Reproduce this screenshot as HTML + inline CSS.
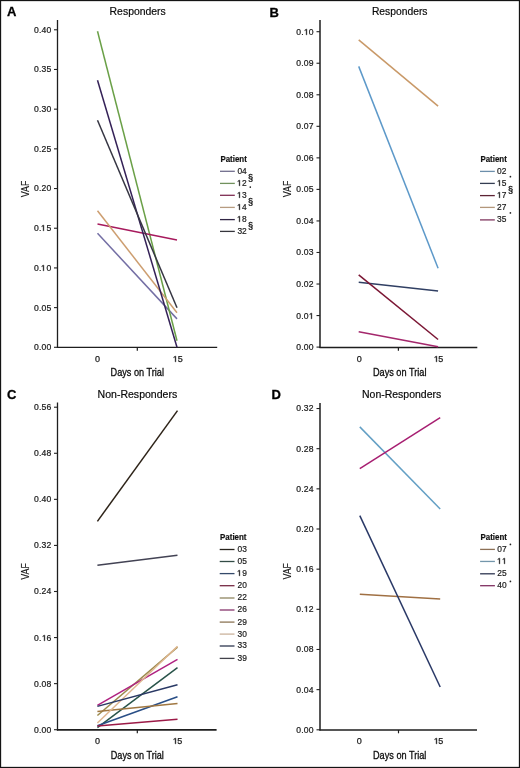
<!DOCTYPE html>
<html><head><meta charset="utf-8"><style>
html,body{margin:0;padding:0;background:#fff;}
body{width:520px;height:768px;overflow:hidden;}
svg{display:block;font-family:"Liberation Sans", sans-serif;}
text{filter:grayscale(1);}
</style></head><body>
<svg width="520" height="768" viewBox="0 0 520 768">
<rect x="0" y="0" width="520" height="768" fill="#fff"/>
<line x1="57.50" y1="20.00" x2="57.50" y2="348.00" stroke="#1e1e1e" stroke-width="1.3" stroke-linecap="butt"/>
<line x1="56.90" y1="347.40" x2="217.20" y2="347.40" stroke="#1e1e1e" stroke-width="1.4" stroke-linecap="butt"/>
<line x1="137.30" y1="347.40" x2="137.30" y2="350.70" stroke="#1e1e1e" stroke-width="1.2" stroke-linecap="butt"/>
<line x1="54.00" y1="347.30" x2="57.50" y2="347.30" stroke="#222" stroke-width="1.1" stroke-linecap="butt"/>
<text x="33.98 38.96 41.44 46.42" y="350.25" font-size="8.6" fill="#1a1a1a" stroke="#1a1a1a" stroke-width="0.22">0.00</text>
<line x1="54.00" y1="307.61" x2="57.50" y2="307.61" stroke="#222" stroke-width="1.1" stroke-linecap="butt"/>
<text x="33.98 38.96 41.44 46.42" y="310.56" font-size="8.6" fill="#1a1a1a" stroke="#1a1a1a" stroke-width="0.22">0.05</text>
<line x1="54.00" y1="267.92" x2="57.50" y2="267.92" stroke="#222" stroke-width="1.1" stroke-linecap="butt"/>
<path d="M515,0L515,1237L197,1010L197,1180L530,1409L696,1409L696,0Z" fill="#1a1a1a" stroke="#1a1a1a" stroke-width="88.1" transform="translate(40.96,270.85) scale(0.00420,-0.00405)"/>
<text x="33.98 38.96 46.42" y="270.87" font-size="8.6" fill="#1a1a1a" stroke="#1a1a1a" stroke-width="0.22">0.0</text>
<line x1="54.00" y1="228.23" x2="57.50" y2="228.23" stroke="#222" stroke-width="1.1" stroke-linecap="butt"/>
<path d="M515,0L515,1237L197,1010L197,1180L530,1409L696,1409L696,0Z" fill="#1a1a1a" stroke="#1a1a1a" stroke-width="88.1" transform="translate(40.96,230.85) scale(0.00420,-0.00405)"/>
<text x="33.98 38.96 46.42" y="231.18" font-size="8.6" fill="#1a1a1a" stroke="#1a1a1a" stroke-width="0.22">0.5</text>
<line x1="54.00" y1="188.54" x2="57.50" y2="188.54" stroke="#222" stroke-width="1.1" stroke-linecap="butt"/>
<text x="33.98 38.96 41.44 46.42" y="191.49" font-size="8.6" fill="#1a1a1a" stroke="#1a1a1a" stroke-width="0.22">0.20</text>
<line x1="54.00" y1="148.85" x2="57.50" y2="148.85" stroke="#222" stroke-width="1.1" stroke-linecap="butt"/>
<text x="33.98 38.96 41.44 46.42" y="151.80" font-size="8.6" fill="#1a1a1a" stroke="#1a1a1a" stroke-width="0.22">0.25</text>
<line x1="54.00" y1="109.16" x2="57.50" y2="109.16" stroke="#222" stroke-width="1.1" stroke-linecap="butt"/>
<text x="33.98 38.96 41.44 46.42" y="112.11" font-size="8.6" fill="#1a1a1a" stroke="#1a1a1a" stroke-width="0.22">0.30</text>
<line x1="54.00" y1="69.47" x2="57.50" y2="69.47" stroke="#222" stroke-width="1.1" stroke-linecap="butt"/>
<text x="33.98 38.96 41.44 46.42" y="72.42" font-size="8.6" fill="#1a1a1a" stroke="#1a1a1a" stroke-width="0.22">0.35</text>
<line x1="54.00" y1="29.78" x2="57.50" y2="29.78" stroke="#222" stroke-width="1.1" stroke-linecap="butt"/>
<text x="33.98 38.96 41.44 46.42" y="32.73" font-size="8.6" fill="#1a1a1a" stroke="#1a1a1a" stroke-width="0.22">0.40</text>
<text x="94.90" y="361.70" font-size="9.0" fill="#1a1a1a" stroke="#1a1a1a" stroke-width="0.25">0</text>
<path d="M515,0L515,1237L197,1010L197,1180L530,1409L696,1409L696,0Z" fill="#1a1a1a" stroke="#1a1a1a" stroke-width="91.0" transform="translate(172.84,361.84) scale(0.00439,-0.00403)"/>
<text x="177.72" y="361.70" font-size="9.0" fill="#1a1a1a" stroke="#1a1a1a" stroke-width="0.25">5</text>
<text x="110.60" y="376.20" font-size="11" text-anchor="start" stroke="#1a1a1a" stroke-width="0.32" textLength="53.4" lengthAdjust="spacingAndGlyphs">Days on Trial</text>
<text x="0" y="0" font-size="11.6" text-anchor="middle" fill="#1a1a1a" stroke="#1a1a1a" stroke-width="0.12" textLength="16.6" lengthAdjust="spacingAndGlyphs" transform="translate(28.70,188.90) rotate(-90)">VAF</text>
<text x="7.00" y="16.20" font-size="13" text-anchor="start" stroke="#000" stroke-width="0.3" font-weight="bold" fill="#000">A</text>
<text x="109.60" y="14.90" font-size="10.8" text-anchor="start" stroke="#1a1a1a" stroke-width="0.2" textLength="56.2" lengthAdjust="spacingAndGlyphs">Responders</text>
<line x1="97.50" y1="233.31" x2="177.00" y2="318.88" stroke="#736ea4" stroke-width="1.5" stroke-linecap="butt"/>
<line x1="97.50" y1="31.21" x2="177.00" y2="340.71" stroke="#6aa047" stroke-width="1.5" stroke-linecap="butt"/>
<line x1="97.50" y1="224.10" x2="177.00" y2="239.98" stroke="#a71a5d" stroke-width="1.5" stroke-linecap="butt"/>
<line x1="97.50" y1="210.77" x2="177.00" y2="312.69" stroke="#cd9e70" stroke-width="1.5" stroke-linecap="butt"/>
<line x1="97.50" y1="80.19" x2="177.00" y2="347.30" stroke="#342157" stroke-width="1.5" stroke-linecap="butt"/>
<line x1="97.50" y1="120.27" x2="177.00" y2="307.77" stroke="#363643" stroke-width="1.5" stroke-linecap="butt"/>
<text x="220.40" y="161.80" font-size="8.5" text-anchor="start" stroke="#111" stroke-width="0.2" font-weight="bold" textLength="26.4" lengthAdjust="spacingAndGlyphs" fill="#111">Patient</text>
<line x1="220.00" y1="171.30" x2="234.80" y2="171.30" stroke="#706d8d" stroke-width="1.3" stroke-linecap="butt"/>
<text x="237.40 242.07" y="173.70" font-size="8.4" fill="#1a1a1a" stroke="#1a1a1a" stroke-width="0.2">04</text>
<line x1="220.00" y1="183.40" x2="234.80" y2="183.40" stroke="#71915d" stroke-width="1.3" stroke-linecap="butt"/>
<path d="M515,0L515,1237L197,1010L197,1180L530,1409L696,1409L696,0Z" fill="#1a1a1a" stroke="#1a1a1a" stroke-width="85.3" transform="translate(237.02,185.86) scale(0.00410,-0.00406)"/>
<text x="242.07" y="185.80" font-size="8.4" fill="#1a1a1a" stroke="#1a1a1a" stroke-width="0.2">2</text>
<line x1="220.00" y1="195.30" x2="234.80" y2="195.30" stroke="#7f2d53" stroke-width="1.3" stroke-linecap="butt"/>
<path d="M515,0L515,1237L197,1010L197,1180L530,1409L696,1409L696,0Z" fill="#1a1a1a" stroke="#1a1a1a" stroke-width="85.3" transform="translate(237.02,197.86) scale(0.00410,-0.00406)"/>
<text x="242.07" y="197.70" font-size="8.4" fill="#1a1a1a" stroke="#1a1a1a" stroke-width="0.2">3</text>
<line x1="220.00" y1="207.40" x2="234.80" y2="207.40" stroke="#b79c81" stroke-width="1.3" stroke-linecap="butt"/>
<path d="M515,0L515,1237L197,1010L197,1180L530,1409L696,1409L696,0Z" fill="#1a1a1a" stroke="#1a1a1a" stroke-width="85.3" transform="translate(237.02,209.86) scale(0.00410,-0.00406)"/>
<text x="242.07" y="209.80" font-size="8.4" fill="#1a1a1a" stroke="#1a1a1a" stroke-width="0.2">4</text>
<line x1="220.00" y1="219.60" x2="234.80" y2="219.60" stroke="#302544" stroke-width="1.3" stroke-linecap="butt"/>
<path d="M515,0L515,1237L197,1010L197,1180L530,1409L696,1409L696,0Z" fill="#1a1a1a" stroke="#1a1a1a" stroke-width="85.3" transform="translate(237.02,221.86) scale(0.00410,-0.00406)"/>
<text x="242.07" y="222.00" font-size="8.4" fill="#1a1a1a" stroke="#1a1a1a" stroke-width="0.2">8</text>
<line x1="220.00" y1="231.40" x2="234.80" y2="231.40" stroke="#35353c" stroke-width="1.3" stroke-linecap="butt"/>
<text x="237.40 242.07" y="233.80" font-size="8.4" fill="#1a1a1a" stroke="#1a1a1a" stroke-width="0.2">32</text>
<text x="250.50" y="180.60" font-size="9.2" text-anchor="middle" stroke="#1a1a1a" stroke-width="0.3">§</text>
<circle cx="250.30" cy="187.10" r="0.85" fill="#222"/>
<text x="250.50" y="204.90" font-size="9.2" text-anchor="middle" stroke="#1a1a1a" stroke-width="0.3">§</text>
<text x="250.50" y="229.20" font-size="9.2" text-anchor="middle" stroke="#1a1a1a" stroke-width="0.3">§</text>
<line x1="320.00" y1="20.00" x2="320.00" y2="348.05" stroke="#1e1e1e" stroke-width="1.5" stroke-linecap="butt"/>
<line x1="319.40" y1="347.45" x2="477.30" y2="347.45" stroke="#1e1e1e" stroke-width="1.4" stroke-linecap="butt"/>
<line x1="398.40" y1="347.45" x2="398.40" y2="350.75" stroke="#1e1e1e" stroke-width="1.2" stroke-linecap="butt"/>
<line x1="316.50" y1="347.10" x2="320.00" y2="347.10" stroke="#222" stroke-width="1.1" stroke-linecap="butt"/>
<text x="296.28 301.26 303.74 308.72" y="350.05" font-size="8.6" fill="#1a1a1a" stroke="#1a1a1a" stroke-width="0.22">0.00</text>
<line x1="316.50" y1="315.56" x2="320.00" y2="315.56" stroke="#222" stroke-width="1.1" stroke-linecap="butt"/>
<path d="M515,0L515,1237L197,1010L197,1180L530,1409L696,1409L696,0Z" fill="#1a1a1a" stroke="#1a1a1a" stroke-width="88.1" transform="translate(308.96,318.85) scale(0.00420,-0.00405)"/>
<text x="296.28 301.26 303.74" y="318.51" font-size="8.6" fill="#1a1a1a" stroke="#1a1a1a" stroke-width="0.22">0.0</text>
<line x1="316.50" y1="284.02" x2="320.00" y2="284.02" stroke="#222" stroke-width="1.1" stroke-linecap="butt"/>
<text x="296.28 301.26 303.74 308.72" y="286.97" font-size="8.6" fill="#1a1a1a" stroke="#1a1a1a" stroke-width="0.22">0.02</text>
<line x1="316.50" y1="252.48" x2="320.00" y2="252.48" stroke="#222" stroke-width="1.1" stroke-linecap="butt"/>
<text x="296.28 301.26 303.74 308.72" y="255.43" font-size="8.6" fill="#1a1a1a" stroke="#1a1a1a" stroke-width="0.22">0.03</text>
<line x1="316.50" y1="220.94" x2="320.00" y2="220.94" stroke="#222" stroke-width="1.1" stroke-linecap="butt"/>
<text x="296.28 301.26 303.74 308.72" y="223.89" font-size="8.6" fill="#1a1a1a" stroke="#1a1a1a" stroke-width="0.22">0.04</text>
<line x1="316.50" y1="189.40" x2="320.00" y2="189.40" stroke="#222" stroke-width="1.1" stroke-linecap="butt"/>
<text x="296.28 301.26 303.74 308.72" y="192.35" font-size="8.6" fill="#1a1a1a" stroke="#1a1a1a" stroke-width="0.22">0.05</text>
<line x1="316.50" y1="157.86" x2="320.00" y2="157.86" stroke="#222" stroke-width="1.1" stroke-linecap="butt"/>
<text x="296.28 301.26 303.74 308.72" y="160.81" font-size="8.6" fill="#1a1a1a" stroke="#1a1a1a" stroke-width="0.22">0.06</text>
<line x1="316.50" y1="126.32" x2="320.00" y2="126.32" stroke="#222" stroke-width="1.1" stroke-linecap="butt"/>
<text x="296.28 301.26 303.74 308.72" y="129.27" font-size="8.6" fill="#1a1a1a" stroke="#1a1a1a" stroke-width="0.22">0.07</text>
<line x1="316.50" y1="94.78" x2="320.00" y2="94.78" stroke="#222" stroke-width="1.1" stroke-linecap="butt"/>
<text x="296.28 301.26 303.74 308.72" y="97.73" font-size="8.6" fill="#1a1a1a" stroke="#1a1a1a" stroke-width="0.22">0.08</text>
<line x1="316.50" y1="63.24" x2="320.00" y2="63.24" stroke="#222" stroke-width="1.1" stroke-linecap="butt"/>
<text x="296.28 301.26 303.74 308.72" y="66.19" font-size="8.6" fill="#1a1a1a" stroke="#1a1a1a" stroke-width="0.22">0.09</text>
<line x1="316.50" y1="31.70" x2="320.00" y2="31.70" stroke="#222" stroke-width="1.1" stroke-linecap="butt"/>
<path d="M515,0L515,1237L197,1010L197,1180L530,1409L696,1409L696,0Z" fill="#1a1a1a" stroke="#1a1a1a" stroke-width="88.1" transform="translate(303.96,34.85) scale(0.00420,-0.00405)"/>
<text x="296.28 301.26 308.72" y="34.65" font-size="8.6" fill="#1a1a1a" stroke="#1a1a1a" stroke-width="0.22">0.0</text>
<text x="356.80" y="361.55" font-size="9.0" fill="#1a1a1a" stroke="#1a1a1a" stroke-width="0.25">0</text>
<path d="M515,0L515,1237L197,1010L197,1180L530,1409L696,1409L696,0Z" fill="#1a1a1a" stroke="#1a1a1a" stroke-width="91.0" transform="translate(433.84,361.84) scale(0.00439,-0.00403)"/>
<text x="438.17" y="361.55" font-size="9.0" fill="#1a1a1a" stroke="#1a1a1a" stroke-width="0.25">5</text>
<text x="372.90" y="375.80" font-size="11" text-anchor="start" stroke="#1a1a1a" stroke-width="0.32" textLength="53.6" lengthAdjust="spacingAndGlyphs">Days on Trial</text>
<text x="0" y="0" font-size="11.6" text-anchor="middle" fill="#1a1a1a" stroke="#1a1a1a" stroke-width="0.12" textLength="16.6" lengthAdjust="spacingAndGlyphs" transform="translate(290.75,188.90) rotate(-90)">VAF</text>
<text x="269.40" y="16.50" font-size="13" text-anchor="start" stroke="#000" stroke-width="0.3" font-weight="bold" fill="#000">B</text>
<text x="371.90" y="14.90" font-size="10.8" text-anchor="start" stroke="#1a1a1a" stroke-width="0.2" textLength="55.6" lengthAdjust="spacingAndGlyphs">Responders</text>
<line x1="358.70" y1="66.39" x2="438.10" y2="268.25" stroke="#5d99c9" stroke-width="1.5" stroke-linecap="butt"/>
<line x1="358.70" y1="282.13" x2="438.10" y2="290.96" stroke="#303f63" stroke-width="1.5" stroke-linecap="butt"/>
<line x1="358.70" y1="274.87" x2="438.10" y2="339.53" stroke="#7b1634" stroke-width="1.5" stroke-linecap="butt"/>
<line x1="358.70" y1="39.90" x2="438.10" y2="106.13" stroke="#c99968" stroke-width="1.5" stroke-linecap="butt"/>
<line x1="358.70" y1="331.65" x2="438.10" y2="346.78" stroke="#a4276c" stroke-width="1.5" stroke-linecap="butt"/>
<text x="480.40" y="161.60" font-size="8.5" text-anchor="start" stroke="#111" stroke-width="0.2" font-weight="bold" textLength="26.4" lengthAdjust="spacingAndGlyphs" fill="#111">Patient</text>
<line x1="480.00" y1="171.40" x2="494.80" y2="171.40" stroke="#6c8fab" stroke-width="1.3" stroke-linecap="butt"/>
<text x="497.10 501.77" y="173.80" font-size="8.4" fill="#1a1a1a" stroke="#1a1a1a" stroke-width="0.2">02</text>
<line x1="480.00" y1="183.40" x2="494.80" y2="183.40" stroke="#343d52" stroke-width="1.3" stroke-linecap="butt"/>
<path d="M515,0L515,1237L197,1010L197,1180L530,1409L696,1409L696,0Z" fill="#1a1a1a" stroke="#1a1a1a" stroke-width="85.3" transform="translate(497.02,185.86) scale(0.00410,-0.00406)"/>
<text x="501.77" y="185.80" font-size="8.4" fill="#1a1a1a" stroke="#1a1a1a" stroke-width="0.2">5</text>
<line x1="480.00" y1="195.60" x2="494.80" y2="195.60" stroke="#5d2334" stroke-width="1.3" stroke-linecap="butt"/>
<path d="M515,0L515,1237L197,1010L197,1180L530,1409L696,1409L696,0Z" fill="#1a1a1a" stroke="#1a1a1a" stroke-width="85.3" transform="translate(497.02,197.86) scale(0.00410,-0.00406)"/>
<text x="501.77" y="198.00" font-size="8.4" fill="#1a1a1a" stroke="#1a1a1a" stroke-width="0.2">7</text>
<line x1="480.00" y1="207.40" x2="494.80" y2="207.40" stroke="#b3977b" stroke-width="1.3" stroke-linecap="butt"/>
<text x="497.10 501.77" y="209.80" font-size="8.4" fill="#1a1a1a" stroke="#1a1a1a" stroke-width="0.2">27</text>
<line x1="480.00" y1="219.90" x2="494.80" y2="219.90" stroke="#80375f" stroke-width="1.3" stroke-linecap="butt"/>
<text x="497.10 501.77" y="222.30" font-size="8.4" fill="#1a1a1a" stroke="#1a1a1a" stroke-width="0.2">35</text>
<circle cx="510.40" cy="176.70" r="0.85" fill="#222"/>
<text x="510.50" y="193.30" font-size="9.2" text-anchor="middle" stroke="#1a1a1a" stroke-width="0.3">§</text>
<circle cx="510.40" cy="212.90" r="0.85" fill="#222"/>
<line x1="57.50" y1="402.50" x2="57.50" y2="730.45" stroke="#1e1e1e" stroke-width="1.3" stroke-linecap="butt"/>
<line x1="56.90" y1="729.85" x2="216.60" y2="729.85" stroke="#1e1e1e" stroke-width="1.6" stroke-linecap="butt"/>
<line x1="137.30" y1="729.85" x2="137.30" y2="733.15" stroke="#1e1e1e" stroke-width="1.2" stroke-linecap="butt"/>
<line x1="54.00" y1="729.70" x2="57.50" y2="729.70" stroke="#222" stroke-width="1.1" stroke-linecap="butt"/>
<text x="34.08 39.06 41.54 46.52" y="732.65" font-size="8.6" fill="#1a1a1a" stroke="#1a1a1a" stroke-width="0.22">0.00</text>
<line x1="54.00" y1="683.63" x2="57.50" y2="683.63" stroke="#222" stroke-width="1.1" stroke-linecap="butt"/>
<text x="34.08 39.06 41.54 46.52" y="686.58" font-size="8.6" fill="#1a1a1a" stroke="#1a1a1a" stroke-width="0.22">0.08</text>
<line x1="54.00" y1="637.56" x2="57.50" y2="637.56" stroke="#222" stroke-width="1.1" stroke-linecap="butt"/>
<path d="M515,0L515,1237L197,1010L197,1180L530,1409L696,1409L696,0Z" fill="#1a1a1a" stroke="#1a1a1a" stroke-width="88.1" transform="translate(41.96,640.85) scale(0.00420,-0.00405)"/>
<text x="34.08 39.06 46.52" y="640.51" font-size="8.6" fill="#1a1a1a" stroke="#1a1a1a" stroke-width="0.22">0.6</text>
<line x1="54.00" y1="591.49" x2="57.50" y2="591.49" stroke="#222" stroke-width="1.1" stroke-linecap="butt"/>
<text x="34.08 39.06 41.54 46.52" y="594.44" font-size="8.6" fill="#1a1a1a" stroke="#1a1a1a" stroke-width="0.22">0.24</text>
<line x1="54.00" y1="545.42" x2="57.50" y2="545.42" stroke="#222" stroke-width="1.1" stroke-linecap="butt"/>
<text x="34.08 39.06 41.54 46.52" y="548.37" font-size="8.6" fill="#1a1a1a" stroke="#1a1a1a" stroke-width="0.22">0.32</text>
<line x1="54.00" y1="499.35" x2="57.50" y2="499.35" stroke="#222" stroke-width="1.1" stroke-linecap="butt"/>
<text x="34.08 39.06 41.54 46.52" y="502.30" font-size="8.6" fill="#1a1a1a" stroke="#1a1a1a" stroke-width="0.22">0.40</text>
<line x1="54.00" y1="453.28" x2="57.50" y2="453.28" stroke="#222" stroke-width="1.1" stroke-linecap="butt"/>
<text x="34.08 39.06 41.54 46.52" y="456.23" font-size="8.6" fill="#1a1a1a" stroke="#1a1a1a" stroke-width="0.22">0.48</text>
<line x1="54.00" y1="407.21" x2="57.50" y2="407.21" stroke="#222" stroke-width="1.1" stroke-linecap="butt"/>
<text x="34.08 39.06 41.54 46.52" y="410.16" font-size="8.6" fill="#1a1a1a" stroke="#1a1a1a" stroke-width="0.22">0.56</text>
<text x="94.95" y="743.85" font-size="9.0" fill="#1a1a1a" stroke="#1a1a1a" stroke-width="0.25">0</text>
<path d="M515,0L515,1237L197,1010L197,1180L530,1409L696,1409L696,0Z" fill="#1a1a1a" stroke="#1a1a1a" stroke-width="91.0" transform="translate(172.84,743.84) scale(0.00439,-0.00403)"/>
<text x="177.27" y="743.85" font-size="9.0" fill="#1a1a1a" stroke="#1a1a1a" stroke-width="0.25">5</text>
<text x="110.80" y="758.70" font-size="11" text-anchor="start" stroke="#1a1a1a" stroke-width="0.32" textLength="53.0" lengthAdjust="spacingAndGlyphs">Days on Trial</text>
<text x="0" y="0" font-size="11.6" text-anchor="middle" fill="#1a1a1a" stroke="#1a1a1a" stroke-width="0.12" textLength="16.6" lengthAdjust="spacingAndGlyphs" transform="translate(28.90,571.40) rotate(-90)">VAF</text>
<text x="7.00" y="399.20" font-size="13" text-anchor="start" stroke="#000" stroke-width="0.3" font-weight="bold" fill="#000">C</text>
<text x="97.60" y="397.50" font-size="10.8" text-anchor="start" stroke="#1a1a1a" stroke-width="0.2" textLength="79.6" lengthAdjust="spacingAndGlyphs">Non-Responders</text>
<line x1="97.40" y1="521.32" x2="177.50" y2="410.61" stroke="#2d2318" stroke-width="1.5" stroke-linecap="butt"/>
<line x1="97.40" y1="727.67" x2="177.50" y2="667.57" stroke="#29544a" stroke-width="1.5" stroke-linecap="butt"/>
<line x1="97.40" y1="725.72" x2="177.50" y2="696.79" stroke="#294e86" stroke-width="1.5" stroke-linecap="butt"/>
<line x1="97.40" y1="726.12" x2="177.50" y2="719.28" stroke="#9c1a47" stroke-width="1.5" stroke-linecap="butt"/>
<line x1="97.40" y1="715.48" x2="177.50" y2="647.16" stroke="#9c8a4c" stroke-width="1.5" stroke-linecap="butt"/>
<line x1="97.40" y1="705.47" x2="177.50" y2="659.29" stroke="#af2180" stroke-width="1.5" stroke-linecap="butt"/>
<line x1="97.40" y1="711.57" x2="177.50" y2="703.58" stroke="#a07741" stroke-width="1.5" stroke-linecap="butt"/>
<line x1="97.40" y1="723.07" x2="177.50" y2="646.29" stroke="#dfb68f" stroke-width="1.5" stroke-linecap="butt"/>
<line x1="97.40" y1="706.39" x2="177.50" y2="684.71" stroke="#293864" stroke-width="1.5" stroke-linecap="butt"/>
<line x1="97.40" y1="565.32" x2="177.50" y2="555.19" stroke="#434354" stroke-width="1.5" stroke-linecap="butt"/>
<text x="220.10" y="539.80" font-size="8.5" text-anchor="start" stroke="#111" stroke-width="0.2" font-weight="bold" textLength="26.4" lengthAdjust="spacingAndGlyphs" fill="#111">Patient</text>
<line x1="219.70" y1="549.50" x2="234.50" y2="549.50" stroke="#28231c" stroke-width="1.3" stroke-linecap="butt"/>
<text x="237.50 242.17" y="551.90" font-size="8.4" fill="#1a1a1a" stroke="#1a1a1a" stroke-width="0.2">03</text>
<line x1="219.70" y1="561.50" x2="234.50" y2="561.50" stroke="#334c46" stroke-width="1.3" stroke-linecap="butt"/>
<text x="237.50 242.17" y="563.90" font-size="8.4" fill="#1a1a1a" stroke="#1a1a1a" stroke-width="0.2">05</text>
<line x1="219.70" y1="573.60" x2="234.50" y2="573.60" stroke="#344a6a" stroke-width="1.3" stroke-linecap="butt"/>
<path d="M515,0L515,1237L197,1010L197,1180L530,1409L696,1409L696,0Z" fill="#1a1a1a" stroke="#1a1a1a" stroke-width="85.3" transform="translate(237.02,575.86) scale(0.00410,-0.00406)"/>
<text x="242.17" y="576.00" font-size="8.4" fill="#1a1a1a" stroke="#1a1a1a" stroke-width="0.2">9</text>
<line x1="219.70" y1="585.70" x2="234.50" y2="585.70" stroke="#762a44" stroke-width="1.3" stroke-linecap="butt"/>
<text x="237.50 242.17" y="588.10" font-size="8.4" fill="#1a1a1a" stroke="#1a1a1a" stroke-width="0.2">20</text>
<line x1="219.70" y1="598.00" x2="234.50" y2="598.00" stroke="#8f8561" stroke-width="1.3" stroke-linecap="butt"/>
<text x="237.50 242.17" y="600.40" font-size="8.4" fill="#1a1a1a" stroke="#1a1a1a" stroke-width="0.2">22</text>
<line x1="219.70" y1="610.00" x2="234.50" y2="610.00" stroke="#87356c" stroke-width="1.3" stroke-linecap="butt"/>
<text x="237.50 242.17" y="612.40" font-size="8.4" fill="#1a1a1a" stroke="#1a1a1a" stroke-width="0.2">26</text>
<line x1="219.70" y1="622.10" x2="234.50" y2="622.10" stroke="#8d7656" stroke-width="1.3" stroke-linecap="butt"/>
<text x="237.50 242.17" y="624.50" font-size="8.4" fill="#1a1a1a" stroke="#1a1a1a" stroke-width="0.2">29</text>
<line x1="219.70" y1="634.10" x2="234.50" y2="634.10" stroke="#cbb39d" stroke-width="1.3" stroke-linecap="butt"/>
<text x="237.50 242.17" y="636.50" font-size="8.4" fill="#1a1a1a" stroke="#1a1a1a" stroke-width="0.2">30</text>
<line x1="219.70" y1="646.00" x2="234.50" y2="646.00" stroke="#2e3650" stroke-width="1.3" stroke-linecap="butt"/>
<text x="237.50 242.17" y="648.40" font-size="8.4" fill="#1a1a1a" stroke="#1a1a1a" stroke-width="0.2">33</text>
<line x1="219.70" y1="658.40" x2="234.50" y2="658.40" stroke="#42424b" stroke-width="1.3" stroke-linecap="butt"/>
<text x="237.50 242.17" y="660.80" font-size="8.4" fill="#1a1a1a" stroke="#1a1a1a" stroke-width="0.2">39</text>
<line x1="320.00" y1="402.90" x2="320.00" y2="730.60" stroke="#1e1e1e" stroke-width="1.5" stroke-linecap="butt"/>
<line x1="319.40" y1="730.00" x2="477.00" y2="730.00" stroke="#1e1e1e" stroke-width="1.6" stroke-linecap="butt"/>
<line x1="398.50" y1="730.00" x2="398.50" y2="733.30" stroke="#1e1e1e" stroke-width="1.2" stroke-linecap="butt"/>
<line x1="316.50" y1="729.80" x2="320.00" y2="729.80" stroke="#222" stroke-width="1.1" stroke-linecap="butt"/>
<text x="296.28 301.26 303.74 308.72" y="732.75" font-size="8.6" fill="#1a1a1a" stroke="#1a1a1a" stroke-width="0.22">0.00</text>
<line x1="316.50" y1="689.64" x2="320.00" y2="689.64" stroke="#222" stroke-width="1.1" stroke-linecap="butt"/>
<text x="296.28 301.26 303.74 308.72" y="692.59" font-size="8.6" fill="#1a1a1a" stroke="#1a1a1a" stroke-width="0.22">0.04</text>
<line x1="316.50" y1="649.48" x2="320.00" y2="649.48" stroke="#222" stroke-width="1.1" stroke-linecap="butt"/>
<text x="296.28 301.26 303.74 308.72" y="652.43" font-size="8.6" fill="#1a1a1a" stroke="#1a1a1a" stroke-width="0.22">0.08</text>
<line x1="316.50" y1="609.32" x2="320.00" y2="609.32" stroke="#222" stroke-width="1.1" stroke-linecap="butt"/>
<path d="M515,0L515,1237L197,1010L197,1180L530,1409L696,1409L696,0Z" fill="#1a1a1a" stroke="#1a1a1a" stroke-width="88.1" transform="translate(303.96,611.85) scale(0.00420,-0.00405)"/>
<text x="296.28 301.26 308.72" y="612.27" font-size="8.6" fill="#1a1a1a" stroke="#1a1a1a" stroke-width="0.22">0.2</text>
<line x1="316.50" y1="569.16" x2="320.00" y2="569.16" stroke="#222" stroke-width="1.1" stroke-linecap="butt"/>
<path d="M515,0L515,1237L197,1010L197,1180L530,1409L696,1409L696,0Z" fill="#1a1a1a" stroke="#1a1a1a" stroke-width="88.1" transform="translate(303.96,571.85) scale(0.00420,-0.00405)"/>
<text x="296.28 301.26 308.72" y="572.11" font-size="8.6" fill="#1a1a1a" stroke="#1a1a1a" stroke-width="0.22">0.6</text>
<line x1="316.50" y1="529.00" x2="320.00" y2="529.00" stroke="#222" stroke-width="1.1" stroke-linecap="butt"/>
<text x="296.28 301.26 303.74 308.72" y="531.95" font-size="8.6" fill="#1a1a1a" stroke="#1a1a1a" stroke-width="0.22">0.20</text>
<line x1="316.50" y1="488.84" x2="320.00" y2="488.84" stroke="#222" stroke-width="1.1" stroke-linecap="butt"/>
<text x="296.28 301.26 303.74 308.72" y="491.79" font-size="8.6" fill="#1a1a1a" stroke="#1a1a1a" stroke-width="0.22">0.24</text>
<line x1="316.50" y1="448.68" x2="320.00" y2="448.68" stroke="#222" stroke-width="1.1" stroke-linecap="butt"/>
<text x="296.28 301.26 303.74 308.72" y="451.63" font-size="8.6" fill="#1a1a1a" stroke="#1a1a1a" stroke-width="0.22">0.28</text>
<line x1="316.50" y1="408.52" x2="320.00" y2="408.52" stroke="#222" stroke-width="1.1" stroke-linecap="butt"/>
<text x="296.28 301.26 303.74 308.72" y="411.47" font-size="8.6" fill="#1a1a1a" stroke="#1a1a1a" stroke-width="0.22">0.32</text>
<text x="356.80" y="743.85" font-size="9.0" fill="#1a1a1a" stroke="#1a1a1a" stroke-width="0.25">0</text>
<path d="M515,0L515,1237L197,1010L197,1180L530,1409L696,1409L696,0Z" fill="#1a1a1a" stroke="#1a1a1a" stroke-width="91.0" transform="translate(433.84,743.84) scale(0.00439,-0.00403)"/>
<text x="438.17" y="743.85" font-size="9.0" fill="#1a1a1a" stroke="#1a1a1a" stroke-width="0.25">5</text>
<text x="373.00" y="758.70" font-size="11" text-anchor="start" stroke="#1a1a1a" stroke-width="0.32" textLength="53.4" lengthAdjust="spacingAndGlyphs">Days on Trial</text>
<text x="0" y="0" font-size="11.6" text-anchor="middle" fill="#1a1a1a" stroke="#1a1a1a" stroke-width="0.12" textLength="16.6" lengthAdjust="spacingAndGlyphs" transform="translate(290.75,571.30) rotate(-90)">VAF</text>
<text x="271.60" y="399.00" font-size="13" text-anchor="start" stroke="#000" stroke-width="0.3" font-weight="bold" fill="#000">D</text>
<text x="362.00" y="397.50" font-size="10.8" text-anchor="start" stroke="#1a1a1a" stroke-width="0.2" textLength="79.2" lengthAdjust="spacingAndGlyphs">Non-Responders</text>
<line x1="359.80" y1="594.29" x2="440.20" y2="599.01" stroke="#a07043" stroke-width="1.5" stroke-linecap="butt"/>
<line x1="359.80" y1="426.87" x2="440.20" y2="508.98" stroke="#64a0c5" stroke-width="1.5" stroke-linecap="butt"/>
<line x1="359.80" y1="515.60" x2="440.20" y2="687.04" stroke="#293866" stroke-width="1.5" stroke-linecap="butt"/>
<line x1="359.80" y1="468.73" x2="440.20" y2="417.73" stroke="#a71e71" stroke-width="1.5" stroke-linecap="butt"/>
<text x="480.50" y="539.70" font-size="8.5" text-anchor="start" stroke="#111" stroke-width="0.2" font-weight="bold" textLength="26.4" lengthAdjust="spacingAndGlyphs" fill="#111">Patient</text>
<line x1="480.10" y1="549.40" x2="494.90" y2="549.40" stroke="#8c7056" stroke-width="1.3" stroke-linecap="butt"/>
<text x="497.30 501.97" y="551.80" font-size="8.4" fill="#1a1a1a" stroke="#1a1a1a" stroke-width="0.2">07</text>
<line x1="480.10" y1="561.45" x2="494.90" y2="561.45" stroke="#7396ab" stroke-width="1.3" stroke-linecap="butt"/>
<path d="M515,0L515,1237L197,1010L197,1180L530,1409L696,1409L696,0Z" fill="#1a1a1a" stroke="#1a1a1a" stroke-width="85.3" transform="translate(497.02,563.86) scale(0.00410,-0.00406)"/>
<path d="M515,0L515,1237L197,1010L197,1180L530,1409L696,1409L696,0Z" fill="#1a1a1a" stroke="#1a1a1a" stroke-width="85.3" transform="translate(502.02,563.86) scale(0.00410,-0.00406)"/>
<line x1="480.10" y1="573.80" x2="494.90" y2="573.80" stroke="#2e3651" stroke-width="1.3" stroke-linecap="butt"/>
<text x="497.30 501.97" y="576.20" font-size="8.4" fill="#1a1a1a" stroke="#1a1a1a" stroke-width="0.2">25</text>
<line x1="480.10" y1="585.70" x2="494.90" y2="585.70" stroke="#803061" stroke-width="1.3" stroke-linecap="butt"/>
<text x="497.30 501.97" y="588.10" font-size="8.4" fill="#1a1a1a" stroke="#1a1a1a" stroke-width="0.2">40</text>
<circle cx="510.40" cy="544.40" r="0.85" fill="#222"/>
<circle cx="510.40" cy="581.40" r="0.85" fill="#222"/>
<rect x="0.5" y="0.5" width="519" height="767" fill="none" stroke="#141414" stroke-width="1.3"/>
</svg>
</body></html>
